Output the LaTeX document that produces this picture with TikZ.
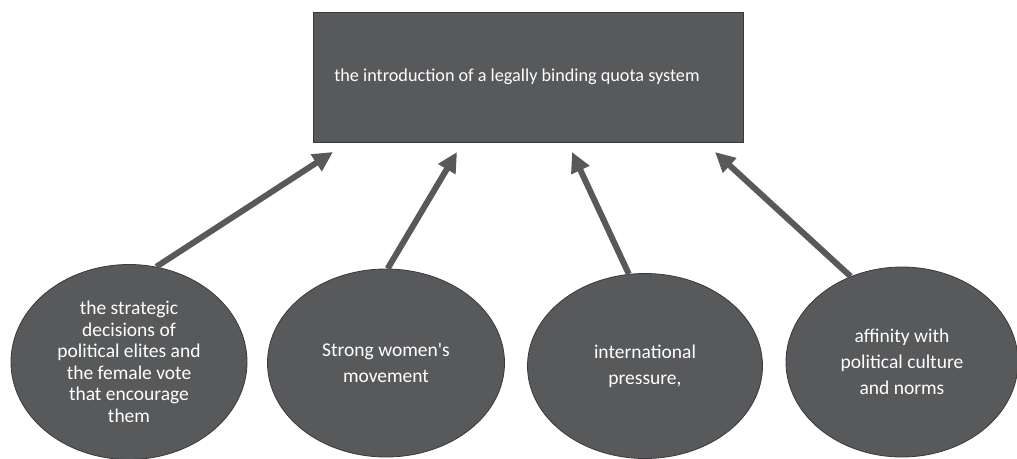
\documentclass[tikz,border=0pt]{standalone}
\usepackage{fontspec}
\setmainfont{Carlito}
\usetikzlibrary{shapes.geometric,arrows.meta}
\definecolor{slate}{RGB}{88,89,91}
\definecolor{slateline}{RGB}{58,58,60}
\begin{document}
\begin{tikzpicture}[x=1pt,y=-1pt,
  factor/.style={ellipse,fill=slate,draw=slateline,line width=0.8pt,inner sep=0pt,
    text=white,align=center,font=\fontsize{19.5}{26}\selectfont},
  push/.style={-{Triangle[length=20pt,width=19pt]},line width=6pt,draw=slate}]
\useasboundingbox (0,0) rectangle (1017,458);
\node[fill=slate,draw=slateline,line width=1pt,minimum width=430pt,minimum height=130pt,
  text=white,font=\fontsize{18.2}{22}\selectfont] (quota) at (528,77)
  {\hspace*{-22pt}the introduction of a legally binding quota system};
\node[factor,minimum width=236pt,minimum height=195pt,
  font=\fontsize{19.5}{21.5}\selectfont] (elites) at (129,362)
  {the strategic\\decisions of\\political elites and\\the female vote\\that encourage\\them};
\node[factor,minimum width=237pt,minimum height=188pt] (women) at (386,363)
  {Strong women\textquotesingle s\\movement};
\node[factor,minimum width=235pt,minimum height=185pt] (intl) at (645,366)
  {international\\pressure,};
\node[factor,minimum width=232pt,minimum height=190pt] (norms) at (902,362)
  {affinity with\\political culture\\and norms};
\coordinate (t1) at (333,152);
\coordinate (t2) at (457,152);
\coordinate (t3) at (572,152);
\coordinate (t4) at (715,152);
\draw[push] (elites.74) -- (t1);
\draw[push] (women.89) -- (t2);
\draw[push] (intl.100) -- (t3);
\draw[push] (norms.121) -- (t4);
\end{tikzpicture}
\end{document}
